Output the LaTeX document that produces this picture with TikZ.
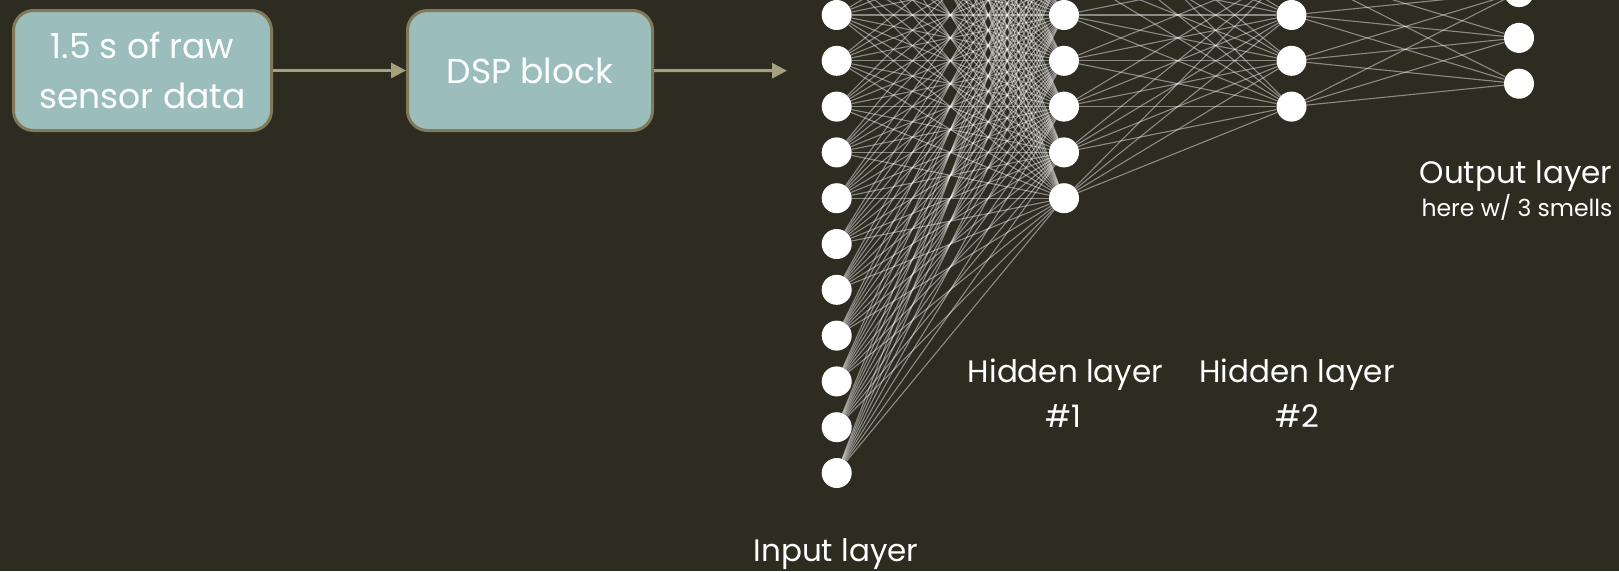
\documentclass[tikz,border=0pt]{standalone}
\usepackage{fontspec}
\setmainfont{Poppins}
\usetikzlibrary{arrows.meta}
\definecolor{bgc}{RGB}{46,43,33}
\definecolor{boxfill}{RGB}{155,190,189}
\definecolor{boxline}{RGB}{128,122,90}
\definecolor{arrc}{RGB}{165,161,124}
\begin{document}
\begin{tikzpicture}[x=1pt,y=-1pt,
  neuron/.style={circle,fill=white,minimum size=30pt,inner sep=0pt},
  conn/.style={draw=white,draw opacity=0.45,line width=1.1pt},
  procbox/.style={draw=boxline,fill=boxfill,line width=3pt,rounded corners=20pt,text=white,align=center,inner sep=0pt,minimum height=120pt,font=\fontsize{34.5}{50}\selectfont},
  flow/.style={draw=arrc,line width=3pt,-{Triangle[length=15pt,width=15pt]}},
  lbl/.style={text=white,anchor=base,inner sep=0pt,font=\fontsize{31}{40}\selectfont},
  sublbl/.style={text=white,anchor=base,inner sep=0pt,font=\fontsize{23.5}{26}\selectfont}]
\useasboundingbox (0,0) rectangle (1619,571);
\fill[bgc] (0,0) rectangle (1619,571);
\clip (0,0) rectangle (1619,571);
% boxes
\node[procbox,minimum width=258pt] (raw) at (142.5,70.5) {1.5 s of raw\\sensor data};
\node[procbox,minimum width=245pt] (dsp) at (530,70.5) {DSP block};
\coordinate (netin) at (787,70.7);
\draw[flow] (raw.east) -- (dsp.west);
\draw[flow] (dsp.east) -- (netin);
% neurons
\foreach \i in {1,...,20}
  \node[neuron] (in\i) at (836.7,{37.9+(\i-10.5)*45.8}) {};
\foreach \j in {1,...,8}
  \node[neuron] (h\j) at (1064,{37.9+(\j-4.5)*45.8}) {};
\foreach \k in {1,...,4}
  \node[neuron] (g\k) at (1291.5,{37.9+(\k-2.5)*45.8}) {};
\foreach \m in {1,...,3}
  \node[neuron] (o\m) at (1519,{37.9+(\m-2)*45.8}) {};
% connections
\foreach \i in {1,...,20}
  \foreach \j in {1,...,8}
    \draw[conn] (in\i) -- (h\j);
\foreach \j in {1,...,8}
  \foreach \k in {1,...,4}
    \draw[conn] (h\j) -- (g\k);
\foreach \k in {1,...,4}
  \foreach \m in {1,...,3}
    \draw[conn] (g\k) -- (o\m);
% labels
\node[lbl] (inlbl) at (836,561) {Input layer};
\node[lbl] (h1lbla) at (1065.5,382) {Hidden layer};
\node[lbl] (h1lblb) at (1063,427) {\#1};
\node[lbl] (h2lbla) at (1297,382) {Hidden layer};
\node[lbl] (h2lblb) at (1297,427) {\#2};
\node[lbl] (outlbl) at (1516,183) {Output layer};
\node[sublbl] (outsub) at (1517,216) {here w/ 3 smells};
\end{tikzpicture}
\end{document}
